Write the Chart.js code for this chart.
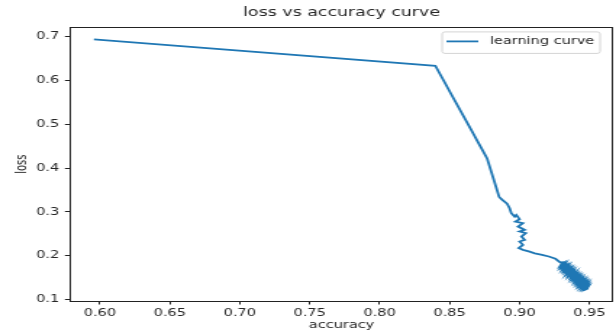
<!DOCTYPE html>
<html>
<head>
<meta charset="utf-8">
<script src="https://cdn.jsdelivr.net/npm/chart.js@4/dist/chart.umd.min.js"></script>
<style>
  html, body { margin: 0; padding: 0; background: #fff; overflow: hidden; }
  /* the reference figure is stretched sideways, so draw narrow and stretch the same way */
  #wrap { width: 425px; height: 333px; transform: scaleX(1.4494); transform-origin: 0 0; }
</style>
</head>
<body>
<div id="wrap"><canvas id="curveChart" width="425" height="333"></canvas></div>
<script>
let accuracy = [
  0.5957, 0.8398, 0.8742, 0.8768, 0.8854, 0.8875, 0.8911, 0.8929, 0.8941, 0.8965,
  0.8977, 0.9000, 0.8970, 0.9024, 0.8989, 0.9037, 0.9000, 0.9045, 0.9013, 0.9037,
  0.9000, 0.9024, 0.8994, 0.9024, 0.9066, 0.9109, 0.9161, 0.9209, 0.9257, 0.9290,
  0.9308, 0.9294, 0.9312, 0.9298, 0.9324, 0.9308, 0.9324, 0.9310, 0.9336, 0.9323,
  0.9345, 0.9327, 0.9348, 0.9334, 0.9358, 0.9339, 0.9362, 0.9351, 0.9373, 0.9356,
  0.9379, 0.9360, 0.9383, 0.9373, 0.9395, 0.9376, 0.9401, 0.9381, 0.9405, 0.9391,
  0.9417, 0.9401, 0.9422, 0.9403, 0.9429, 0.9413, 0.9439, 0.9418, 0.9441, 0.9427,
  0.9453, 0.9432, 0.9458, 0.9441, 0.9467, 0.9446, 0.9472, 0.9456, 0.9481, 0.9463,
  0.9486, 0.9470, 0.9491, 0.9479, 0.9492
];
let loss = [
  0.6930, 0.6330, 0.4370, 0.4220, 0.3341, 0.3280, 0.3186, 0.3084, 0.2970, 0.2893,
  0.2932, 0.2834, 0.2780, 0.2743, 0.2666, 0.2590, 0.2553, 0.2516, 0.2439, 0.2364,
  0.2325, 0.2250, 0.2175, 0.2136, 0.2100, 0.2057, 0.2023, 0.1984, 0.1932, 0.1850,
  0.1852, 0.1784, 0.1823, 0.1755, 0.1818, 0.1741, 0.1773, 0.1702, 0.1768, 0.1698,
  0.1755, 0.1668, 0.1716, 0.1648, 0.1705, 0.1607, 0.1675, 0.1614, 0.1670, 0.1584,
  0.1641, 0.1555, 0.1611, 0.1550, 0.1607, 0.1523, 0.1577, 0.1491, 0.1548, 0.1480,
  0.1543, 0.1466, 0.1516, 0.1430, 0.1495, 0.1416, 0.1480, 0.1386, 0.1443, 0.1375,
  0.1439, 0.1345, 0.1411, 0.1334, 0.1395, 0.1302, 0.1368, 0.1291, 0.1355, 0.1273,
  0.1327, 0.1252, 0.1298, 0.1243, 0.1261
];
let xTicks = [0.60, 0.65, 0.70, 0.75, 0.80, 0.85, 0.90, 0.95];
let yTicks = [0.1, 0.2, 0.3, 0.4, 0.5, 0.6, 0.7];

let textColor = "#262626";
let fontFamily = "'DejaVu Sans', sans-serif";

// matplotlib style frame on all four sides, and the boxed legend in the top right corner
let framePlugin = {
  id: "frame",
  afterDraw(chart) {
    let c = chart.ctx;
    let a = chart.chartArea;
    c.save();
    c.strokeStyle = "#222";
    c.lineWidth = 1;
    c.strokeRect(Math.round(a.left) + 0.5, Math.round(a.top) + 0.5,
      Math.round(a.right - a.left) - 1, Math.round(a.bottom - a.top));

    let ds = chart.data.datasets[0];
    c.font = "10px " + fontFamily;
    let textW = c.measureText(ds.label).width;
    let boxW = 3 + 22 + 8 + textW + 4;
    let boxR = a.right - 9;
    let boxL = boxR - boxW;
    let boxT = a.top + 4.5;
    let boxH = 21.5;
    c.fillStyle = "rgba(255,255,255,0.8)";
    c.strokeStyle = "#d4d4d4";
    c.beginPath();
    c.roundRect(boxL, boxT, boxW, boxH, 2);
    c.fill();
    c.stroke();
    let midY = boxT + 9.5;
    c.strokeStyle = ds.borderColor;
    c.lineWidth = ds.borderWidth;
    c.beginPath();
    c.moveTo(boxL + 3, midY);
    c.lineTo(boxL + 25, midY);
    c.stroke();
    c.fillStyle = textColor;
    c.textBaseline = "middle";
    c.fillText(ds.label, boxL + 33, midY);
    c.restore();
  },
};

let ctx = document.getElementById("curveChart").getContext("2d");
let myChart = new Chart(ctx, {
  type: "scatter",
  data: {
    datasets: [
      {
        label: "learning curve",
        data: accuracy.map((a, i) => ({ x: a, y: loss[i] })),
        showLine: true,
        borderColor: "#1f77b4",
        backgroundColor: "#1f77b4",
        borderWidth: 1.8,
        pointRadius: 0,
        tension: 0,
      },
    ],
  },
  options: {
    responsive: false,
    animation: false,
    layout: { padding: { left: 0, right: 2, top: 0, bottom: 0 } },
    plugins: {
      title: {
        display: true,
        text: "loss vs accuracy curve",
        fullSize: false,
        color: textColor,
        font: { family: fontFamily, size: 12, weight: "normal" },
        padding: { top: 6, bottom: 7 },
      },
      legend: { display: false },
      tooltip: { enabled: false },
    },
    scales: {
      x: {
        type: "linear",
        min: 0.5786,
        max: 0.9669,
        afterBuildTicks: (axis) => {
          axis.ticks = xTicks.map((v) => ({ value: v }));
        },
        afterFit: (s) => {
          s.height = 32;
        },
        ticks: {
          callback: (v) => v.toFixed(2),
          color: textColor,
          font: { family: fontFamily, size: 10 },
          padding: 3,
          maxRotation: 0,
          autoSkip: false,
        },
        grid: { drawOnChartArea: false, drawTicks: true, tickLength: 3.5, color: "#222" },
        border: { display: false },
        title: {
          display: true,
          text: "accuracy",
          color: textColor,
          font: { family: fontFamily, size: 10 },
          padding: { top: 0, bottom: 2 },
        },
      },
      y: {
        min: 0.097,
        max: 0.7205,
        afterBuildTicks: (axis) => {
          axis.ticks = yTicks.map((v) => ({ value: v }));
        },
        afterFit: (s) => {
          s.width = 48.3;
        },
        ticks: {
          callback: (v) => v.toFixed(1),
          color: textColor,
          font: { family: fontFamily, size: 10 },
          padding: 4,
          autoSkip: false,
        },
        grid: { drawOnChartArea: false, drawTicks: true, tickLength: 3.5, color: "#222" },
        border: { display: false },
        title: {
          display: true,
          text: "loss",
          color: textColor,
          font: { family: fontFamily, size: 10 },
          padding: { top: 9, bottom: 0 },
        },
      },
    },
  },
  plugins: [framePlugin],
});
</script>
</body>
</html>
